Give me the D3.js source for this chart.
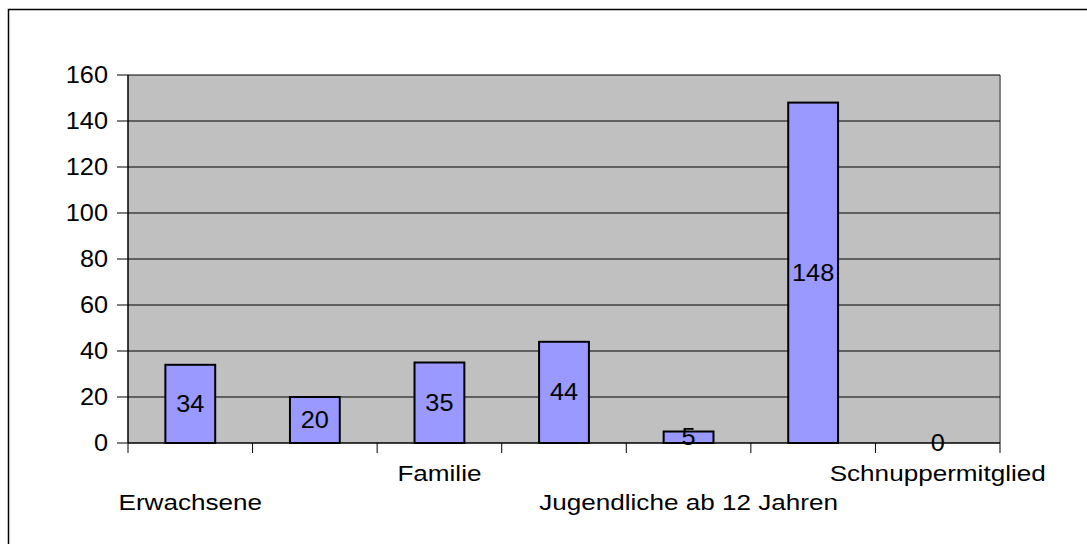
<!DOCTYPE html>
<html lang="de">
<head>
  <meta charset="UTF-8">
  <title>Mitglieder</title>
  <script src="https://cdn.jsdelivr.net/npm/d3@7/dist/d3.min.js"></script>
  <style>
    body { margin: 0; background: #fff; }
    text { font-family: Arial, "Liberation Sans", sans-serif; fill: #000; }
  </style>
</head>
<body>
  <svg id="chart" width="1087" height="544"></svg>
  <script>
    // Daten (nur jede zweite Kategorie ist im Bild beschriftet)
    const categories = ['Erwachsene', '', 'Familie', '', 'Jugendliche ab 12 Jahren', '', 'Schnuppermitglied'];
    const values = [34, 20, 35, 44, 5, 148, 0];
    const yTicks = [0, 20, 40, 60, 80, 100, 120, 140, 160];

    (() => {
      const svg = d3.select('#chart');
      const pLeft = 128, pRight = 1000, pTop = 75, pBottom = 443;

      // Rahmen
      svg.append('rect')
        .attr('x', 8.5).attr('y', 9.5)
        .attr('width', 1100).attr('height', 600)
        .attr('fill', 'none').attr('stroke', '#000').attr('stroke-width', 1.5);

      const x = d3.scaleBand().domain(d3.range(categories.length)).range([pLeft, pRight]).paddingInner(0.6).paddingOuter(0.3);
      const xb = d3.scaleBand().domain(d3.range(categories.length)).range([pLeft, pRight]);
      const y = d3.scaleLinear().domain([0, 160]).range([pBottom, pTop]);

      // Zeichenfläche
      svg.append('rect')
        .attr('x', pLeft).attr('y', pTop)
        .attr('width', pRight - pLeft).attr('height', pBottom - pTop)
        .attr('fill', '#c0c0c0');
      svg.append('line')
        .attr('x1', pRight).attr('x2', pRight).attr('y1', pTop).attr('y2', pBottom)
        .attr('stroke', '#808080').attr('stroke-width', 2);

      // Gitterlinien
      svg.selectAll('.grid')
        .data(yTicks.filter(d => d > 0))
        .enter()
        .append('line')
        .attr('x1', pLeft).attr('x2', pRight)
        .attr('y1', d => y(d)).attr('y2', d => y(d))
        .attr('stroke', '#000').attr('stroke-width', 1);

      // Y-Achse
      svg.append('line')
        .attr('x1', pLeft).attr('x2', pLeft).attr('y1', pTop).attr('y2', pBottom)
        .attr('stroke', '#000').attr('stroke-width', 1.5);
      svg.selectAll('.ytick')
        .data(yTicks)
        .enter()
        .append('line')
        .attr('x1', pLeft - 11).attr('x2', pLeft)
        .attr('y1', d => y(d)).attr('y2', d => y(d))
        .attr('stroke', '#000').attr('stroke-width', 1);
      svg.selectAll('.ylabel')
        .data(yTicks)
        .enter()
        .append('text')
        .attr('transform', d => `translate(108, ${y(d) + 8}) scale(1.1, 1)`)
        .attr('text-anchor', 'end')
        .attr('font-size', '23px')
        .text(d => d);

      // Balken
      svg.selectAll('.bar')
        .data(values)
        .enter()
        .append('rect')
        .attr('x', (d, i) => x(i))
        .attr('y', d => y(d))
        .attr('width', x.bandwidth())
        .attr('height', d => pBottom - y(d))
        .attr('fill', '#9999ff')
        .attr('stroke', '#000')
        .attr('stroke-width', 2);

      // Werte
      svg.selectAll('.val')
        .data(values)
        .enter()
        .append('text')
        .attr('transform', (d, i) => `translate(${x(i) + x.bandwidth() / 2}, ${(y(d) + pBottom) / 2 + 8}) scale(1.1, 1)`)
        .attr('text-anchor', 'middle')
        .attr('font-size', '23px')
        .text(d => d);

      // X-Achse
      svg.append('line')
        .attr('x1', pLeft).attr('x2', pRight).attr('y1', pBottom).attr('y2', pBottom)
        .attr('stroke', '#000').attr('stroke-width', 1.5);
      svg.selectAll('.xtick')
        .data(d3.range(categories.length + 1))
        .enter()
        .append('line')
        .attr('x1', i => pLeft + i * xb.bandwidth()).attr('x2', i => pLeft + i * xb.bandwidth())
        .attr('y1', pBottom).attr('y2', pBottom + 10)
        .attr('stroke', '#000').attr('stroke-width', 1);
      // jede zweite Beschriftung, versetzt in zwei Zeilen
      svg.selectAll('.xlabel')
        .data(categories.map((c, i) => ({ c, i })).filter(d => d.i % 2 === 0))
        .enter()
        .append('text')
        .attr('transform', d => `translate(${xb(d.i) + xb.bandwidth() / 2}, ${(d.i / 2) % 2 === 0 ? 510 : 481}) scale(1.16, 1)`)
        .attr('text-anchor', 'middle')
        .attr('font-size', '22.5px')
        .text(d => d.c);
    })();
  </script>
</body>
</html>
